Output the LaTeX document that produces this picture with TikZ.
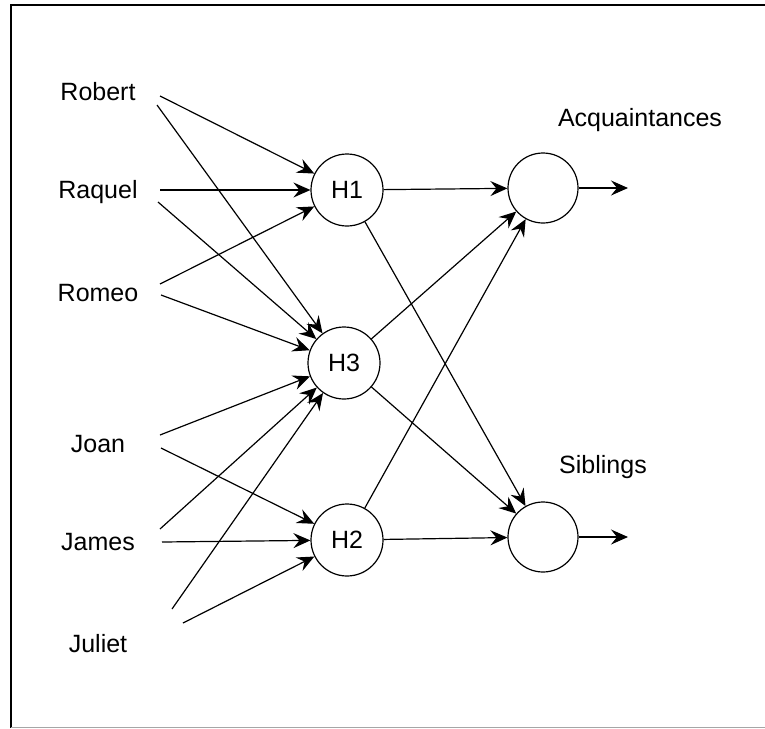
\documentclass[tikz,border=0pt]{standalone}
\usepackage{fontspec}
\setmainfont{Liberation Sans}
\usetikzlibrary{arrows.meta}

\begin{document}
\begin{tikzpicture}[x=1pt, y=-1pt,
    lbl/.style={font=\fontsize{25}{30}\selectfont, inner sep=0pt, anchor=base},
    unit/.style={draw, circle, line width=1.2pt, minimum size=72pt, inner sep=0pt,
                 font=\fontsize{25}{30}\selectfont},
    link/.style={line width=1.2pt, -{Stealth[length=17pt, width=15pt, inset=6pt]}},
  ]
  \useasboundingbox (0,0) rectangle (765,728);

  % frame
  \draw[line width=2pt] (11,728) -- (11,5) -- (766,5);
  \draw[line width=1pt, black!35] (11,727) -- (766,727);

  % input labels
  \node[lbl] (robert) at (98,100) {Robert};
  \node[lbl] (raquel) at (98,198) {Raquel};
  \node[lbl] (romeo)  at (98,301) {Romeo};
  \node[lbl] (joan)   at (98,452) {Joan};
  \node[lbl] (james)  at (98,550) {James};
  \node[lbl] (juliet) at (98,652) {Juliet};

  % start points of the input lines
  \coordinate (rob1) at (160,96);  \coordinate (rob2) at (157,105);
  \coordinate (raq1) at (160,190); \coordinate (raq2) at (158,202);
  \coordinate (rom1) at (160,284); \coordinate (rom2) at (161,295);
  \coordinate (joa1) at (160,435); \coordinate (joa2) at (161,448);
  \coordinate (jam1) at (160,529); \coordinate (jam2) at (162,542);
  \coordinate (jul1) at (172,609); \coordinate (jul2) at (183,623);

  % hidden units
  \node[unit] (h1) at (347,190) {H1};
  \node[unit] (h3) at (344,363) {H3};
  \node[unit] (h2) at (347,540) {H2};

  % output units
  \node[unit, minimum size=70pt] (acq) at (543,188) {};
  \node[unit, minimum size=70pt] (sib) at (543,537) {};
  \node[lbl] (acqlbl) at (640,126) {Acquaintances};
  \node[lbl] (siblbl) at (603,473) {Siblings};
  \coordinate (acqout) at (628,188);
  \coordinate (sibout) at (628,537);

  % input -> hidden
  \draw[link] (rob1) -- (h1);
  \draw[link] (rob2) -- (h3);
  \draw[link] (raq1) -- (h1);
  \draw[link] (raq2) -- (h3);
  \draw[link] (rom1) -- (h1);
  \draw[link] (rom2) -- (h3);
  \draw[link] (joa1) -- (h3);
  \draw[link] (joa2) -- (h2);
  \draw[link] (jam1) -- (h3);
  \draw[link] (jam2) -- (h2);
  \draw[link] (jul1) -- (h3);
  \draw[link] (jul2) -- (h2);

  % hidden -> output
  \draw[link] (h1) -- (acq);
  \draw[link] (h1) -- (sib);
  \draw[link] (h3) -- (acq);
  \draw[link] (h3) -- (sib);
  \draw[link] (h2) -- (acq);
  \draw[link] (h2) -- (sib);

  % outputs
  \draw[link] (acq) -- (acqout);
  \draw[link] (sib) -- (sibout);
\end{tikzpicture}
\end{document}
